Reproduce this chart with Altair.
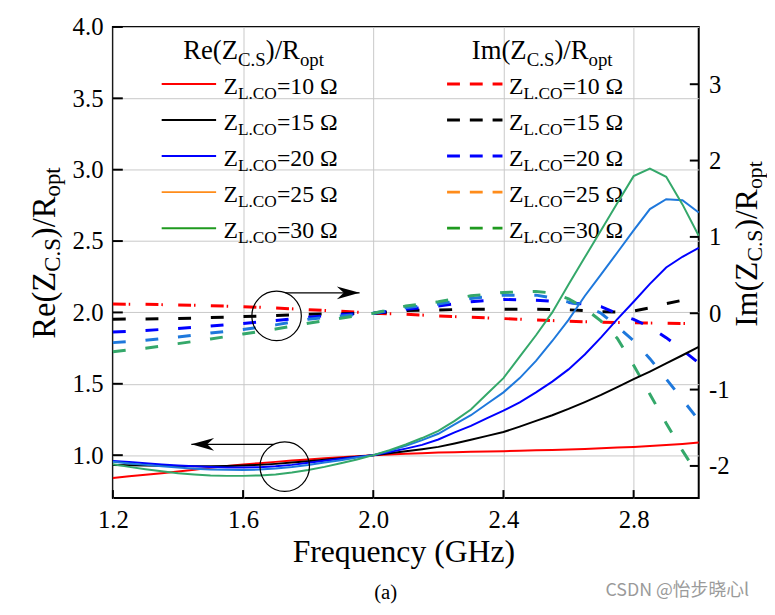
import altair as alt
import pandas as pd

# ---------------- data ----------------
freq = [1.20, 1.25, 1.30, 1.35, 1.40, 1.45, 1.50, 1.55, 1.60, 1.65, 1.70, 1.75,
        1.80, 1.85, 1.90, 1.95, 2.00, 2.05, 2.10, 2.15, 2.20, 2.25, 2.30, 2.35,
        2.40, 2.45, 2.50, 2.55, 2.60, 2.65, 2.70, 2.75, 2.80, 2.85, 2.90, 2.95, 3.00]

re_10 = [0.840, 0.852, 0.863, 0.874, 0.885, 0.898, 0.911, 0.924, 0.935, 0.944, 0.953, 0.962,
         0.970, 0.978, 0.986, 0.993, 1.000, 1.005, 1.010, 1.014, 1.018, 1.021, 1.024, 1.026,
         1.028, 1.031, 1.034, 1.037, 1.040, 1.044, 1.049, 1.053, 1.058, 1.064, 1.071, 1.079, 1.088]
re_15 = [0.931, 0.929, 0.927, 0.925, 0.924, 0.923, 0.923, 0.924, 0.927, 0.932, 0.939, 0.948,
         0.958, 0.968, 0.979, 0.989, 1.000, 1.013, 1.027, 1.042, 1.058, 1.082, 1.108, 1.135,
         1.162, 1.200, 1.240, 1.280, 1.324, 1.372, 1.422, 1.476, 1.532, 1.586, 1.643, 1.700, 1.759]
re_20 = [0.960, 0.952, 0.943, 0.935, 0.928, 0.922, 0.917, 0.914, 0.913, 0.916, 0.922, 0.932,
         0.947, 0.961, 0.975, 0.988, 1.000, 1.022, 1.046, 1.072, 1.110, 1.160, 1.205, 1.260,
         1.312, 1.370, 1.440, 1.515, 1.601, 1.705, 1.825, 1.953, 2.075, 2.200, 2.315, 2.390, 2.452]
re_25 = [0.954, 0.942, 0.932, 0.922, 0.913, 0.905, 0.900, 0.897, 0.896, 0.899, 0.906, 0.917,
         0.931, 0.948, 0.965, 0.983, 1.000, 1.030, 1.065, 1.105, 1.150, 1.215, 1.280, 1.360,
         1.440, 1.540, 1.660, 1.800, 1.948, 2.115, 2.267, 2.420, 2.575, 2.724, 2.793, 2.786, 2.700]
re_30 = [0.936, 0.918, 0.902, 0.887, 0.874, 0.865, 0.858, 0.855, 0.855, 0.858, 0.865, 0.878,
         0.896, 0.918, 0.943, 0.970, 1.000, 1.035, 1.075, 1.120, 1.170, 1.240, 1.320, 1.430,
         1.540, 1.690, 1.840, 2.000, 2.196, 2.386, 2.576, 2.766, 2.955, 3.008, 2.950, 2.757, 2.537]

im_10 = [0.120, 0.119, 0.117, 0.113, 0.108, 0.104, 0.099, 0.093, 0.086, 0.078, 0.069, 0.058,
         0.047, 0.036, 0.026, 0.013, 0.000, -0.007, -0.013, -0.024, -0.035, -0.044, -0.052, -0.061,
         -0.070, -0.079, -0.087, -0.096, -0.105, -0.111, -0.117, -0.122, -0.126, -0.129, -0.132, -0.135, -0.137]
im_15 = [-0.078, -0.076, -0.074, -0.072, -0.069, -0.063, -0.057, -0.051, -0.044, -0.038, -0.031, -0.022,
         -0.013, -0.009, -0.005, -0.002, 0.000, 0.018, 0.034, 0.039, 0.043, 0.048, 0.052, 0.052,
         0.052, 0.052, 0.052, 0.050, 0.045, 0.033, 0.020, 0.015, 0.030, 0.070, 0.125, 0.170, 0.220]
im_20 = [-0.246, -0.236, -0.225, -0.212, -0.199, -0.184, -0.168, -0.151, -0.134, -0.115, -0.095, -0.074,
         -0.052, -0.034, -0.017, -0.008, 0.000, 0.026, 0.052, 0.074, 0.095, 0.123, 0.150, 0.166,
         0.180, 0.176, 0.170, 0.156, 0.140, 0.118, 0.085, -0.005, -0.080, -0.180, -0.320, -0.480, -0.650]
im_25 = [-0.385, -0.370, -0.355, -0.333, -0.311, -0.285, -0.259, -0.236, -0.212, -0.182, -0.152, -0.115,
         -0.078, -0.056, -0.035, -0.017, 0.000, 0.036, 0.073, 0.097, 0.120, 0.157, 0.194, 0.215,
         0.237, 0.237, 0.237, 0.200, 0.146, 0.100, 0.000, -0.175, -0.360, -0.595, -0.860, -1.130, -1.400]
im_30 = [-0.505, -0.480, -0.458, -0.428, -0.398, -0.368, -0.337, -0.305, -0.272, -0.240, -0.207, -0.170,
         -0.130, -0.097, -0.065, -0.032, 0.000, 0.047, 0.094, 0.122, 0.150, 0.190, 0.228, 0.250,
         0.272, 0.280, 0.285, 0.265, 0.190, 0.065, -0.104, -0.330, -0.680, -1.060, -1.440, -1.800, -2.130]

series_names = ["10", "15", "20", "25", "30"]
legend_labels = ["=10 Ω", "=15 Ω", "=20 Ω", "=25 Ω", "=30 Ω"]
line_colors = ["#ff0000", "#000000", "#0000ff", "#1e78dc", "#34a86a"]
legend_colors = ["#ff0000", "#000000", "#0000ff", "#ff8c1a", "#1f9a1f"]

x_ticks = [1.2, 1.6, 2.0, 2.4, 2.8]
left_ticks = [1.0, 1.5, 2.0, 2.5, 3.0, 3.5, 4.0]
right_ticks = [-2, -1, 0, 1, 2, 3]

# annotation anchors (data coordinates)
circle_re = {"freq": [1.728], "value": [0.92]}
circle_im = {"freq": [1.703], "value": [-0.035]}
arrow_re = {"freq": [1.695], "freq2": [1.441], "value": [1.076]}
arrow_im = {"freq": [1.730], "freq2": [1.958], "value": [0.267]}

# ---------------- layout ----------------
W, H = 592, 476
SERIF = "Liberation Serif"
GRID = "#c8c8c8"

re_series = [re_10, re_15, re_20, re_25, re_30]
im_series = [im_10, im_15, im_20, im_25, im_30]

re_df = pd.DataFrame({
    "freq": freq * 5,
    "value": sum(re_series, []),
    "series": [s for s in series_names for _ in freq],
})
im_df = pd.DataFrame({
    "freq": freq * 5,
    "value": sum(im_series, []),
    "series": [s for s in series_names for _ in freq],
})

x_scale = alt.Scale(domain=[1.2, 3.0], nice=False, zero=False)
yl_scale = alt.Scale(domain=[0.7, 4.0], nice=False, zero=False)
yr_scale = alt.Scale(domain=[-2.42, 3.75], nice=False, zero=False)
color_scale = alt.Scale(domain=series_names, range=line_colors)
dash_scale = alt.Scale(domain=series_names,
                       range=[[13, 3, 1.5, 15.5], [13, 20], [13, 20], [13, 20], [13, 20]])

lab = dict(labelFont=SERIF, labelFontSize=25, labelColor="black", labelFlush=False,
           labelOverlap=False, domain=False, ticks=False, tickSize=0, labelPadding=10, title="")

x_axis = alt.Axis(values=x_ticks, format=".1f", grid=True, gridColor=GRID, gridWidth=1, **lab)
yl_axis = alt.Axis(orient="left", values=left_ticks, format=".1f", grid=True,
                   gridColor=GRID, gridWidth=1, **lab)
yr_axis = alt.Axis(orient="right", values=right_ticks, labelExpr="'' + datum.value",
                   grid=False, **lab)


def XF(field):
    return alt.X(field, scale=x_scale, axis=x_axis)


def YL(field):
    return alt.Y(field, scale=yl_scale, axis=yl_axis)


def YR(field):
    return alt.Y(field, scale=yr_scale, axis=yr_axis)


ANN = alt.Data(values=[{"k": 0}])

TIMES_W = {' ': 0.25, '(': 0.333, ')': 0.333, '.': 0.25, '/': 0.278, '=': 0.564,
           '0': 0.5, '1': 0.5, '2': 0.5, '3': 0.5, '5': 0.5, 'C': 0.667, 'I': 0.333,
           'L': 0.611, 'O': 0.722, 'R': 0.667, 'S': 0.556, 'Z': 0.611, 'e': 0.444,
           'm': 0.778, 'o': 0.5, 'p': 0.5, 't': 0.278, 'Ω': 0.768}


def tw(s, size):
    return sum(TIMES_W.get(c, 0.5) for c in s) * size


def txt(s, x, y, size, angle=0, align="left", baseline="alphabetic", color="black", font=SERIF):
    kw = dict(text=s, font=font, fontSize=size, align=align, baseline=baseline, color=color)
    if angle:
        kw["angle"] = angle
    return alt.Chart(ANN).mark_text(**kw).encode(x=alt.value(x), y=alt.value(y))


def hrich(pieces, x0, y0):
    out, x = [], x0
    for s, size, dy in pieces:
        out.append(txt(s, x, y0 + dy, size))
        x += tw(s, size)
    return out


def vrich(pieces, x0, yc):
    total = sum(tw(s, size) for s, size, _ in pieces)
    y, out = yc + total / 2, []
    for s, size, dx in pieces:
        out.append(txt(s, x0 + dx, y, size, angle=270))
        y -= tw(s, size)
    return out


def hrule(x1, x2, y, color, width, dash=None):
    kw = dict(color=color, strokeWidth=width)
    if dash:
        kw["strokeDash"] = dash
    return alt.Chart(ANN).mark_rule(**kw).encode(x=alt.value(x1), x2=alt.value(x2), y=alt.value(y))


annotations = []
# legend titles
annotations += hrich([("Re(Z", 27, 0), ("C.S", 19, 7), (")/R", 27, 0), ("opt", 19, 7)], 71, 32.5)
annotations += hrich([("Im(Z", 27, 0), ("C.S", 19, 7), (")/R", 27, 0), ("opt", 19, 7)], 362.7, 32.5)
# legend rows
for i, (lbl, col) in enumerate(zip(legend_labels, legend_colors)):
    yb = 67.7 + i * 36.4
    annotations.append(hrule(49.3, 104.3, yb - 10, col, 2))
    annotations += hrich([("Z", 24, 0), ("L.CO", 17.5, 5), (lbl, 24, 0)], 111.7, yb)
    annotations.append(hrule(337.7, 393.7, yb - 10, col, 3, [13, 10]))
    annotations += hrich([("Z", 24, 0), ("L.CO", 17.5, 5), (lbl, 24, 0)], 400.3, yb)
# axis titles
annotations += vrich([("Re(Z", 33, 0), ("C.S", 23, 6), (")/R", 33, 0), ("opt", 23, 6)], -59, 228.5)
annotations += vrich([("Im(Z", 32, 0), ("C.S", 22, 5), (")/R", 32, 0), ("opt", 22, 5)], 650.5, 219.3)
annotations.append(txt("Frequency (GHz)", 294, 541, 32, align="center"))
annotations.append(txt("(a)", 275.7, 578, 21, align="center"))
annotations.append(txt("CSDN @怡步晓心l", 497.7, 570, 18, baseline="middle",
                       color="#9a9a9a", font="Noto Sans CJK SC"))

# ---------------- Im (dashed, right axis) ----------------
im_lines = alt.Chart(im_df).mark_line(strokeWidth=3, strokeCap="butt").encode(
    x=XF("freq:Q"),
    y=YR("value:Q"),
    color=alt.Color("series:N", scale=color_scale, legend=None),
    strokeDash=alt.StrokeDash("series:N", scale=dash_scale, legend=None),
)
right_tick_marks = alt.Chart(pd.DataFrame({"t": right_ticks})).mark_rule(
    color="black", strokeWidth=2).encode(
    y=YR("t:Q"), x=alt.value(W - 9), x2=alt.value(W))

ARROW_R = "M0,0 L-2,-0.565 L-1.39,0 L-2,0.565 Z"
ARROW_L = "M0,0 L2,-0.565 L1.39,0 L2,0.565 Z"

circ_im = alt.Chart(pd.DataFrame(circle_im)).mark_point(
    shape="circle", size=2500, filled=False, color="black", strokeWidth=1.2, opacity=1).encode(
    x=XF("freq:Q"), y=YR("value:Q"))
arr_im = alt.Chart(pd.DataFrame(arrow_im)).mark_rule(color="black", strokeWidth=1.3).encode(
    x=XF("freq:Q"), x2="freq2:Q", y=YR("value:Q"))
head_im = alt.Chart(pd.DataFrame(arrow_im)).mark_point(
    shape=ARROW_R, size=529, filled=True, color="black", opacity=1, strokeWidth=0).encode(
    x=XF("freq2:Q"), y=YR("value:Q"))

im_group = alt.layer(*annotations, im_lines, right_tick_marks, circ_im, arr_im, head_im)

# ---------------- Re (solid, left axis) ----------------
re_lines = alt.Chart(re_df).mark_line(strokeWidth=2).encode(
    x=XF("freq:Q"),
    y=YL("value:Q"),
    color=alt.Color("series:N", scale=color_scale, legend=None),
)
left_tick_marks = alt.Chart(pd.DataFrame({"t": left_ticks})).mark_rule(
    color="black", strokeWidth=2).encode(
    y=YL("t:Q"), x=alt.value(0), x2=alt.value(10))
bottom_tick_marks = alt.Chart(pd.DataFrame({"t": x_ticks})).mark_rule(
    color="black", strokeWidth=2).encode(
    x=XF("t:Q"), y=alt.value(H), y2=alt.value(H - 8))

circ_re = alt.Chart(pd.DataFrame(circle_re)).mark_point(
    shape="circle", size=2500, filled=False, color="black", strokeWidth=1.2, opacity=1).encode(
    x=XF("freq:Q"), y=YL("value:Q"))
arr_re = alt.Chart(pd.DataFrame(arrow_re)).mark_rule(color="black", strokeWidth=1.3).encode(
    x=XF("freq:Q"), x2="freq2:Q", y=YL("value:Q"))
head_re = alt.Chart(pd.DataFrame(arrow_re)).mark_point(
    shape=ARROW_L, size=529, filled=True, color="black", opacity=1, strokeWidth=0).encode(
    x=XF("freq2:Q"), y=YL("value:Q"))

re_group = alt.layer(re_lines, left_tick_marks, bottom_tick_marks, circ_re, arr_re, head_re)

chart = alt.layer(im_group, re_group).resolve_scale(y="independent").properties(
    width=W, height=H,
    autosize=alt.AutoSizeParams(type="none"),
    padding={"left": 106, "top": 16, "right": 69, "bottom": 107},
    background="white",
).configure_view(stroke="black", strokeWidth=2)

chart.save("out.html", embed_options={"renderer": "svg", "actions": False})
